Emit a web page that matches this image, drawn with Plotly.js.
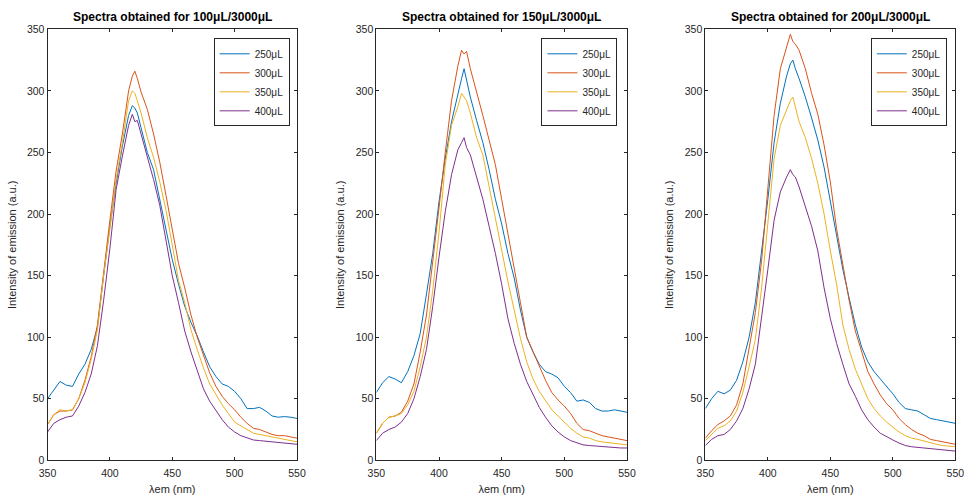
<!DOCTYPE html>
<html>
<head>
<meta charset="utf-8">
<script src="https://cdn.plot.ly/plotly-3.0.1.min.js"></script>
<style>html,body{margin:0;padding:0;background:#fff;}#chart{width:964px;height:495px;}</style>
</head>
<body>
<div id="chart"></div>
<script>
// Wavelength (nm)
const wavelength = [350,355,360,365,370,375,380,385,390,395,400,405,410,415,418,420,422,425,430,435,440,445,450,455,460,465,470,475,480,485,490,495,500,505,510,515,520,525,530,535,540,545,550];

const seriesNames = ['250\u03bcL','300\u03bcL','350\u03bcL','400\u03bcL'];
const panelTitles = ['Spectra obtained for 100\u03bcL/3000\u03bcL','Spectra obtained for 150\u03bcL/3000\u03bcL','Spectra obtained for 200\u03bcL/3000\u03bcL'];
const xTicks = [350,400,450,500,550];
const yTicks = [0,50,100,150,200,250,300,350];

// Panel 1 : 100uL/3000uL
const p1_250 = [50,57,64,61,60,70,78,90,108,150,190,225,255,280,288,286,282,270,250,236,212,188,163,143,125,112,101,88,76,68,62,60,56,50,42,42,43,40,36,35,35.5,35,34];
const p1_300 = [29,37,40,40,41,50,65,84,110,155,195,235,265,300,312,316,310,299,285,265,242,215,188,160,140,118,100,85,71,60,52,46,41,35,30,26,25,23,21,20,20,19,18];
const p1_350 = [29,37,41,40,41,50,63,82,106,150,188,228,258,292,300,298,292,282,262,246,226,203,175,146,128,106,90,75,62,53,45,38,31,28,25,22,21,20,19,18,17,16,15];
const p1_400 = [23,30,33,35,36,44,55,70,93,130,172,220,247,272,281,275,276,265,245,228,207,180,150,128,105,88,72,58,48,40,33,27,23,20,18,16.5,16,15.5,15,14.5,14,13.5,13];

// Panel 2 : 150uL/3000uL
const p2_250 = [55,63,68,66,63,72,85,103,135,168,210,245,275,298,310,318,308,295,276,258,236,212,192,168,148,122,100,88,78,72,70,67,60,55,48,49,47,42,40,40,41,40,39];
const p2_300 = [22,30,35,36,39,48,62,88,118,160,205,250,292,320,333,330,332,318,300,280,260,240,212,185,155,128,100,88,76,65,55,49,44,38,30,25,24,22,20,19,18,17,16];
const p2_350 = [22,30,35,36,38,45,56,76,100,138,185,240,272,287,298,295,292,282,262,248,222,195,168,145,122,99,80,66,56,48,41,36,31,26,22,19,18,16,15,14.5,14,13,12.5];
const p2_400 = [16,22,25,27,31,38,50,68,90,125,165,202,232,252,258,262,254,248,230,212,190,168,143,115,95,78,64,53,43,35,28,23,19,16,14,12.5,12,11.5,11,10.5,10.5,10,10];

// Panel 3 : 200uL/3000uL
const p3_250 = [42,50,56,54,57,65,80,100,128,168,212,258,290,312,322,325,318,310,295,278,260,238,210,180,155,132,110,92,80,72,66,60,54,47,42,41,40,37,34,33,32,31,30];
const p3_300 = [18,24,29,32,36,45,62,90,120,162,220,280,318,335,346,340,338,333,318,298,281,256,226,188,158,130,105,88,72,62,53,46,41,34,29,25,22,20,17,16,15,14,13];
const p3_350 = [16,21,26,28,32,40,55,76,98,140,195,245,272,285,292,295,286,275,262,245,225,200,170,143,110,90,74,62,50,42,36,31,27,23,20,18,17,15.5,14,13,12,11.5,11];
const p3_400 = [12,17,20,21,25,32,42,58,78,115,155,195,218,230,236,232,230,222,205,190,170,140,115,95,78,62,52,41,33,27,22,19,16.5,14,12,11,10.5,10,9,8.5,8,7.5,7.5];

const panels = [[p1_250,p1_300,p1_350,p1_400],[p2_250,p2_300,p2_350,p2_400],[p3_250,p3_300,p3_350,p3_400]];
const colors = ['#0072BD','#D95319','#EDB120','#7E2F8E'];

const domainsX = [[0.0493,0.3081],[0.3904,0.6504],[0.7317,0.9910]];
const domainY = [0.0701,0.9408];
const legendRight = [0.3005,0.6405,0.9822];

const FONT = 'Arial, "Liberation Sans", Helvetica, sans-serif';
const AX = '#262626';

const traces = [];
const layout = {
  width:964, height:495,
  margin:{l:0,r:0,t:0,b:0},
  paper_bgcolor:'#fff', plot_bgcolor:'#fff',
  font:{family:FONT, size:10, color:AX},
  annotations:[]
};

panels.forEach((ser,p)=>{
  const sfx = p===0 ? '' : String(p+1);
  const legName = p===0 ? 'legend' : 'legend'+(p+1);
  ser.forEach((vals,i)=>{
    traces.push({
      x: wavelength, y: vals, type:'scatter', mode:'lines',
      name: seriesNames[i],
      line:{color:colors[i], width:1},
      xaxis:'x'+sfx, yaxis:'y'+sfx,
      legend: legName
    });
  });
  layout['xaxis'+sfx] = {
    domain:domainsX[p], anchor:'y'+sfx, range:[350,550],
    tickvals:xTicks, ticks:'inside', ticklen:3, tickcolor:AX,
    showline:true, linecolor:AX, linewidth:1, mirror:'ticks',
    showgrid:false, zeroline:false, ticklabeloverflow:'allow',
    ticklabelstandoff:3,
    tickfont:{size:10.5, color:AX, family:FONT},
    title:{text:'\u03bbem (nm)', font:{size:11, color:AX, family:FONT}, standoff:7}
  };
  layout['yaxis'+sfx] = {
    domain:domainY, anchor:'x'+sfx, range:[0,350],
    tickvals:yTicks, ticks:'inside', ticklen:3, tickcolor:AX,
    showline:true, linecolor:AX, linewidth:1, mirror:'ticks',
    showgrid:false, zeroline:false, ticklabeloverflow:'allow',
    tickfont:{size:10.5, color:AX, family:FONT},
    title:{text:'Intensity of emission (a.u.)', font:{size:11, color:AX, family:FONT}, standoff:8}
  };
  layout[legName] = {
    x:legendRight[p], y:0.9226, xanchor:'right', yanchor:'top',
    bgcolor:'#fff', bordercolor:AX, borderwidth:1,
    font:{size:10, color:AX, family:FONT},
    tracegroupgap:0, itemwidth:30
  };
  layout.annotations.push({
    text:'<b>'+panelTitles[p]+'</b>', xref:'paper', yref:'paper',
    x:(domainsX[p][0]+domainsX[p][1])/2, xanchor:'center',
    y:0.9408, yanchor:'bottom', yshift:3,
    showarrow:false, font:{size:12, color:'#000', family:FONT}
  });
});

Plotly.newPlot('chart', traces, layout, {displayModeBar:false, staticPlot:true});
</script>
</body>
</html>
